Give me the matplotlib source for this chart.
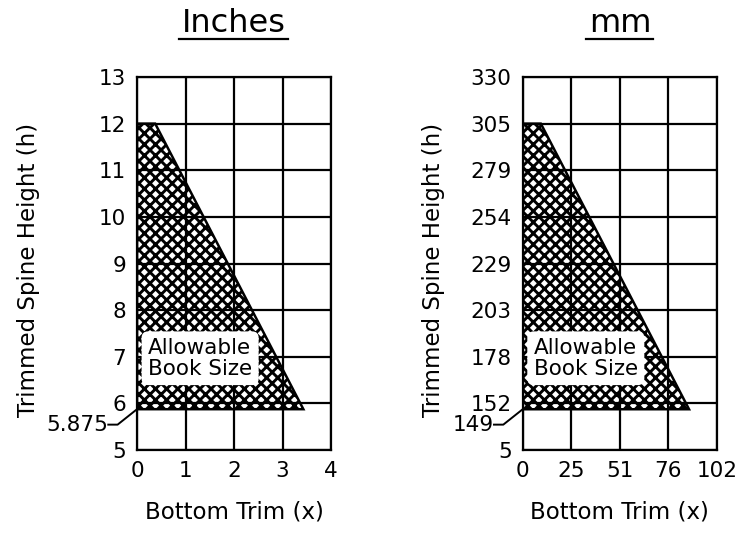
import matplotlib
matplotlib.use("Agg")
import matplotlib.pyplot as plt
from matplotlib.patches import Polygon
from matplotlib.lines import Line2D

plt.rcParams['font.family'] = ['DejaVu Sans']
plt.rcParams['hatch.linewidth'] = 2.1
plt.rcParams['hatch.color'] = 'black'

# ---- data ----
titles = ["Inches", "mm"]
x_label = "Bottom Trim (x)"
y_label = "Trimmed Spine Height (h)"

# inches panel
in_xticks = [0, 1, 2, 3, 4]
in_xticklabels = ["0", "1", "2", "3", "4"]
in_yticks = [5, 6, 7, 8, 9, 10, 11, 12, 13]
in_yticklabels = ["5", "6", "7", "8", "9", "10", "11", "12", "13"]
in_poly_x = [0, 0, 0.375, 3.43]
in_poly_y = [5.875, 12, 12, 5.875]
in_min_label = "5.875"
in_min_value = 5.875

# mm panel
mm_xticks = [0, 25.4, 50.8, 76.2, 101.6]
mm_xticklabels = ["0", "25", "51", "76", "102"]
mm_yticks = [127, 152.4, 177.8, 203.2, 228.6, 254, 279.4, 304.8, 330.2]
mm_yticklabels = ["5", "152", "178", "203", "229", "254", "279", "305", "330"]
mm_poly_x = [0, 0, 9.5, 87.1]
mm_poly_y = [149.2, 304.8, 304.8, 149.2]
mm_min_label = "149"
mm_min_value = 149.2

region_label = "Allowable\nBook Size"

W, H = 753, 543
fig = plt.figure(figsize=(W / 100, H / 100), dpi=100)

ax_w = 194 / W
ax_h = 373 / H
ax_b = (H - 450) / H
axes = [fig.add_axes([137 / W, ax_b, ax_w, ax_h]),
        fig.add_axes([522.7 / W, ax_b, ax_w, ax_h])]

panels = [
    (in_xticks, in_xticklabels, in_yticks, in_yticklabels, in_poly_x, in_poly_y, in_min_label, in_min_value),
    (mm_xticks, mm_xticklabels, mm_yticks, mm_yticklabels, mm_poly_x, mm_poly_y, mm_min_label, mm_min_value),
]

title_centers = [234, 620]
ylabel_x = [-0.50, -0.40]

for i, (ax, p) in enumerate(zip(axes, panels)):
    xt, xtl, yt, ytl, px, py, mlab, mval = p
    ax.set_xlim(xt[0], xt[-1])
    ax.set_ylim(yt[0], yt[-1])
    ax.set_xticks(xt)
    ax.set_xticklabels(xtl)
    ax.set_yticks(yt)
    ax.set_yticklabels(ytl)
    ax.tick_params(length=0, labelsize=15.5, pad=8)
    ax.grid(True, color='black', linewidth=1.6, zorder=2.5)
    ax.set_axisbelow(False)
    for s in ax.spines.values():
        s.set_linewidth(1.6)
        s.set_color('black')
    poly = Polygon(list(zip(px, py)), closed=True, facecolor='white',
                   edgecolor='black', hatch='xxx', linewidth=1.8, zorder=1.5)
    ax.add_patch(poly)
    xr = xt[-1] - xt[0]
    yr = yt[-1] - yt[0]
    ax.text(xt[0] + 0.057 * xr, yt[0] + 0.246 * yr, region_label,
            fontsize=15.5, ha='left', va='center', linespacing=1.05, zorder=5,
            bbox=dict(boxstyle='round,pad=0.3', facecolor='white', edgecolor='none'))
    ax.set_xlabel(x_label, fontsize=16.5, va='top')
    ax.xaxis.set_label_coords(0.5, -0.135)
    ax.set_ylabel(y_label, fontsize=16.5)
    ax.yaxis.set_label_coords(ylabel_x[i], 0.483)
    # leader annotation for minimum height
    y_txt = yt[0] + 0.068 * yr
    ax.add_line(Line2D([xt[0] - 0.148 * xr, xt[0] - 0.1 * xr, xt[0]],
                       [y_txt, y_txt, mval], color='black', linewidth=1.4,
                       clip_on=False, zorder=6))
    ax.text(xt[0] - 0.15 * xr, y_txt, mlab, fontsize=15.5, ha='right',
            va='center', clip_on=False)

# titles with underline
fig.canvas.draw()
renderer = fig.canvas.get_renderer()
for t, cx in zip(titles, title_centers):
    txt = fig.text(cx / W, 1 - 24 / H, t, fontsize=23, ha='center', va='center')
    bb = txt.get_window_extent(renderer=renderer)
    y_line = 1 - 38.5 / H
    fig.add_artist(Line2D([(bb.x0 - 3) / W, (bb.x1 + 2) / W], [y_line, y_line],
                          transform=fig.transFigure, color='black', linewidth=1.6))

fig.savefig("out.png", dpi=100)
